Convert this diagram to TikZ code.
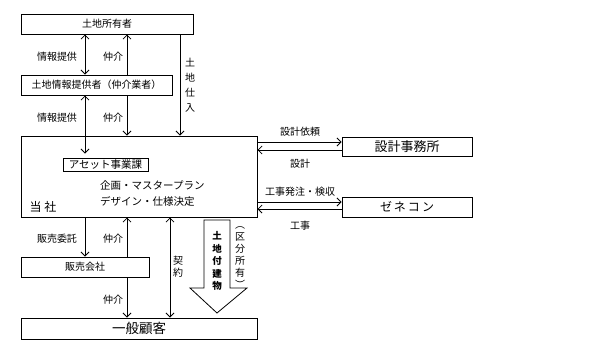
\documentclass[tikz,border=0pt]{standalone}
\usepackage{fontspec}
\setmainfont{Noto Sans CJK JP}
\usetikzlibrary{arrows.meta}
\begin{document}
\begin{tikzpicture}[x=1pt,y=-1pt,
  box/.style={draw,line width=1pt,inner sep=0pt,minimum height=20pt,font=\fontsize{10}{12}\selectfont},
  lbl/.style={font=\fontsize{10}{12}\selectfont,inner sep=0pt},
  vlbl/.style={font=\fontsize{10}{12.5}\selectfont,inner sep=0pt,align=center},
  conn/.style={line width=0.8pt},
  >={Straight Barb[length=4pt,width=8pt]}]
\useasboundingbox (0,0) rectangle (600,359);
% columns / rows
\coordinate (cA) at (85,0);
\coordinate (cB) at (127,0);
\coordinate (cC) at (180,0);
\coordinate (cD) at (170,0);
\coordinate (r1) at (0,142);
\coordinate (r2) at (0,150);
\coordinate (r3) at (0,202);
\coordinate (r4) at (0,209);
% boxes
\node[box,minimum width=172pt] (owner) at (107,24) {土地所有者};
\node[box,minimum width=151pt] (broker) at (96.5,85) {土地情報提供者（仲介業者）};
\node[box,minimum width=236pt,minimum height=81pt] (company) at (139,176.5) {};
\node[box,minimum width=85pt,minimum height=13pt,font=\fontsize{10.5}{12}\selectfont] (asset) at (105.5,164.5) {アセット事業課};
\node[box,minimum width=128pt] (sales) at (85,267) {販売会社};
\node[box,minimum width=236pt,minimum height=21pt,font=\fontsize{13.5}{15}\selectfont] (customer) at (139,328.5) {一般顧客};
\node[box,minimum width=130pt,minimum height=19pt,font=\fontsize{13}{15}\selectfont] (design) at (407,146.5) {設計事務所};
\node[box,minimum width=130pt,font=\fontsize{12}{15}\selectfont] (gc) at (407,207) {ゼ\,ネ\,コ\,ン};
% texts inside company
\node[lbl,font=\fontsize{12}{14}\selectfont] (tosha) at (43,207) {当\ 社};
\node[lbl,anchor=west,font=\fontsize{10.5}{12}\selectfont] (plan1) at (100,185) {企画・マスタープラン};
\node[lbl,anchor=west,font=\fontsize{10.5}{12}\selectfont] (plan2) at (100,201) {デザイン・仕様決定};
% vertical connectors
\draw[conn,<->] (owner.south -| cA) -- (broker.north -| cA);
\draw[conn,->] (broker.north -| cB) -- (owner.south -| cB);
\draw[conn,->] (owner.south -| cC) -- (company.north -| cC);
\draw[conn,<->,shorten >=4pt] (broker.south -| cA) -- (asset.north -| cA);
\draw[conn,->] (broker.south -| cB) -- (company.north -| cB);
\draw[conn,->] (company.south -| cA) -- (sales.north -| cA);
\draw[conn,->] (sales.north -| cB) -- (company.south -| cB);
\draw[conn,->] (sales.south -| cB) -- (customer.north -| cB);
\draw[conn,<->] (company.south -| cD) -- (customer.north -| cD);
% horizontal connectors
\draw[conn,->] (company.east |- r1) -- (design.west |- r1);
\draw[conn,->] (design.west |- r2) -- (company.east |- r2);
\draw[conn,->] (company.east |- r3) -- (gc.west |- r3);
\draw[conn,->] (gc.west |- r4) -- (company.east |- r4);
% labels
\node[lbl] (l1) at (57,57) {情報提供};
\node[lbl] (l2) at (113,57) {仲介};
\node[vlbl,font=\fontsize{10}{15}\selectfont] (l3) at (190,85) {土\\地\\仕\\入};
\node[lbl] (l4) at (57,118) {情報提供};
\node[lbl] (l5) at (113,118) {仲介};
\node[lbl] (l6) at (300,132) {設計依頼};
\node[lbl] (l7) at (300,164) {設計};
\node[lbl] (l8) at (300,192) {工事発注・検収};
\node[lbl] (l9) at (300,226) {工事};
\node[lbl] (l10) at (57,239) {販売委託};
\node[lbl] (l11) at (113,239) {仲介};
\node[vlbl,font=\fontsize{10}{12}\selectfont] (l12) at (178,267) {契\\約};
\node[lbl] (l13) at (113,300) {仲介};
% big arrow
\draw[line width=0.8pt,fill=white] (204,220) -- (230,220) -- (230,288) -- (247,288) -- (217,313) -- (190,288) -- (204,288) -- cycle;
\node[vlbl,font=\bfseries\fontsize{9.5}{12.5}\selectfont] (l14) at (217,261) {土\\地\\付\\建\\物};
\node[vlbl,font=\fontsize{10}{12}\selectfont] (l15) at (240,258) {︵\\区\\分\\所\\有\\︶};
\end{tikzpicture}
\end{document}
